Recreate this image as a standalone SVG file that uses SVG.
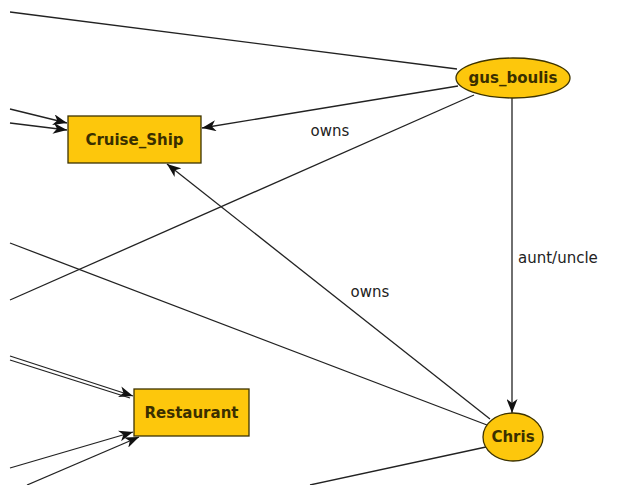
<svg xmlns="http://www.w3.org/2000/svg" width="617" height="485" viewBox="0 0 617 485">
<style>
.node{fill:#FDC70C;stroke:#3d3300;stroke-width:1.3}
.lbl{font-family:"DejaVu Sans",sans-serif;font-size:15px;font-weight:bold;fill:#3a2f00;text-anchor:middle;dominant-baseline:central}
.edge{stroke:#222;stroke-width:1.3;fill:none}
.arr{marker-end:url(#ah)}
.elbl{font-family:"DejaVu Sans",sans-serif;font-size:15px;fill:#222}
</style>
<defs>
<marker id="ah" viewBox="0 0 14 11" refX="14" refY="5.5" markerWidth="14" markerHeight="11" markerUnits="userSpaceOnUse" orient="auto">
<path d="M0,0 L14,5.5 L0,11 L4,5.5 z" fill="#111"/>
</marker>
</defs>
<rect width="617" height="485" fill="#fff"/>
<g id="connectors">
<line class="edge" x1="10" y1="12" x2="457" y2="69"/>
<line class="edge arr" x1="458" y1="86" x2="202" y2="128"/>
<line class="edge" x1="474" y1="95" x2="10" y2="300"/>
<line class="edge" x1="10" y1="243" x2="487" y2="425"/>
<line class="edge arr" x1="490" y1="419" x2="167" y2="164"/>
<line class="edge arr" x1="512" y1="98" x2="512" y2="413"/>
<line class="edge" x1="486" y1="447" x2="310" y2="485"/>
<line class="edge arr" x1="10" y1="109" x2="67" y2="123"/>
<line class="edge arr" x1="10" y1="123" x2="67" y2="130"/>
<line class="edge arr" x1="10" y1="356" x2="133" y2="396"/>
<line class="edge" x1="10" y1="360" x2="130" y2="398"/>
<line class="edge arr" x1="10" y1="468" x2="133" y2="432"/>
<line class="edge arr" x1="27" y1="485" x2="139" y2="437"/>
<text class="elbl" x="330" y="136" text-anchor="middle">owns</text>
<text class="elbl" x="370" y="297" text-anchor="middle">owns</text>
<text class="elbl" x="518" y="263">aunt/uncle</text>
</g>
<g id="gus_boulis">
<ellipse class="node" cx="513" cy="78" rx="57" ry="20"/>
<text class="lbl" x="513" y="78">gus_boulis</text>
</g>
<g id="Cruise_Ship">
<rect class="node" x="68" y="116" width="133" height="47"/>
<text class="lbl" x="134.5" y="139.5">Cruise_Ship</text>
</g>
<g id="Restaurant">
<rect class="node" x="134" y="389" width="115" height="47"/>
<text class="lbl" x="191.5" y="412.5">Restaurant</text>
</g>
<g id="Chris">
<ellipse class="node" cx="513" cy="437" rx="30" ry="24"/>
<text class="lbl" x="513" y="437">Chris</text>
</g>
</svg>
